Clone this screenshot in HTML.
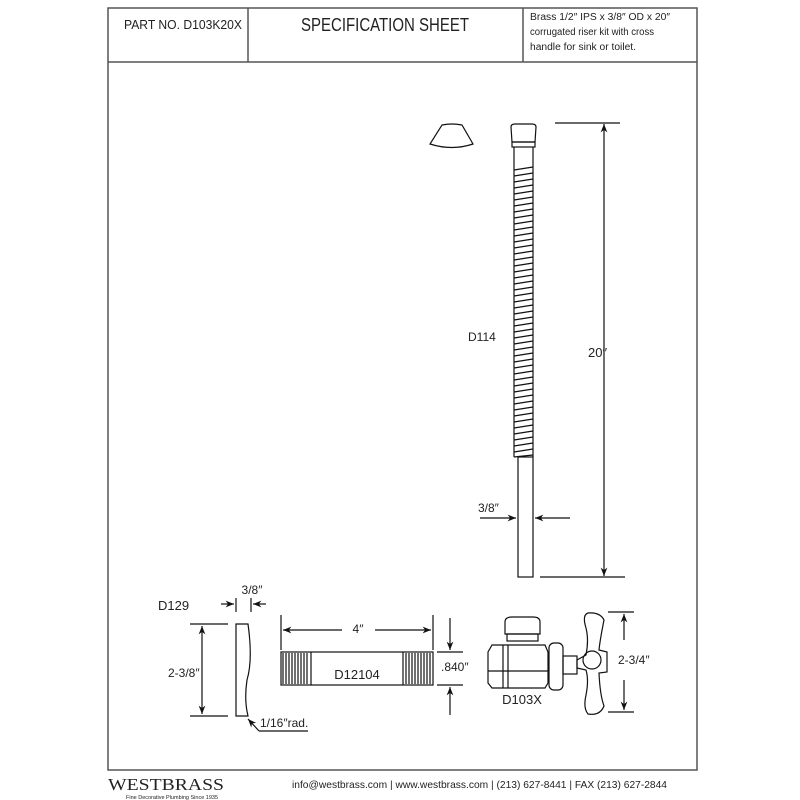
<!DOCTYPE html>
<html><head><meta charset="utf-8"><style>
html,body{margin:0;padding:0;background:#fff;}
svg{display:block;font-family:"Liberation Sans",sans-serif;}
</style></head><body>
<svg width="800" height="800" viewBox="0 0 800 800" xmlns="http://www.w3.org/2000/svg">
<defs>
<marker id="ar" viewBox="0 0 10 10" refX="10" refY="5" markerWidth="7" markerHeight="7" orient="auto-start-reverse"><path d="M0,1 L10,5 L0,9 L3,5 Z" fill="#111"/></marker>
</defs>
<g fill="none" stroke="#555" stroke-width="1.5">
<rect x="108" y="8" width="589" height="762"/>
<line x1="108" y1="62" x2="697" y2="62"/>
<line x1="248" y1="8" x2="248" y2="62"/>
<line x1="523" y1="8" x2="523" y2="62"/>
</g>
<g fill="#222">
<text x="124" y="29" font-size="13" textLength="118" lengthAdjust="spacingAndGlyphs">PART NO.  D103K20X</text>
<text x="385" y="31" font-size="18" text-anchor="middle" textLength="168" lengthAdjust="spacingAndGlyphs">SPECIFICATION SHEET</text>
<text x="530" y="20" font-size="10" textLength="140" lengthAdjust="spacingAndGlyphs">Brass 1/2″ IPS x 3/8″ OD x 20″</text>
<text x="530" y="35" font-size="10" textLength="124" lengthAdjust="spacingAndGlyphs">corrugated riser kit with cross</text>
<text x="530" y="50" font-size="10" textLength="106" lengthAdjust="spacingAndGlyphs">handle for sink or toilet.</text>
</g>
<g stroke="#111" stroke-width="1.2" fill="none">
<path d="M442,125 Q452,123 462,125 L473,144 Q452,151 430,144 Z"/>
<path d="M511,127 Q511,124 515,124 L532,124 Q536,124 536,127 L535,142 L512,142 Z"/>
<rect x="512" y="142" width="23" height="5"/>
<line x1="514" y1="147" x2="514" y2="167"/><line x1="533" y1="147" x2="533" y2="167"/>
<line x1="514" y1="167" x2="514" y2="457"/><line x1="533" y1="167" x2="533" y2="457"/>
<path d="M514,170 L533,167 M514,176 L533,173 M514,182 L533,179 M514,188 L533,185 M514,194 L533,191 M514,200 L533,197 M514,206 L533,203 M514,212 L533,209 M514,218 L533,215 M514,224 L533,221 M514,230 L533,227 M514,236 L533,233 M514,242 L533,239 M514,248 L533,245 M514,254 L533,251 M514,260 L533,257 M514,266 L533,263 M514,272 L533,269 M514,278 L533,275 M514,284 L533,281 M514,290 L533,287 M514,296 L533,293 M514,302 L533,299 M514,308 L533,305 M514,314 L533,311 M514,320 L533,317 M514,326 L533,323 M514,332 L533,329 M514,338 L533,335 M514,344 L533,341 M514,350 L533,347 M514,356 L533,353 M514,362 L533,359 M514,368 L533,365 M514,374 L533,371 M514,380 L533,377 M514,386 L533,383 M514,392 L533,389 M514,398 L533,395 M514,404 L533,401 M514,410 L533,407 M514,416 L533,413 M514,422 L533,419 M514,428 L533,425 M514,434 L533,431 M514,440 L533,437 M514,446 L533,443 M514,452 L533,449 M514,457 L533,455"/>
<rect x="518" y="457" width="15" height="120"/>
<line x1="555" y1="123" x2="620" y2="123"/>
<line x1="540" y1="577" x2="625" y2="577"/>
<line x1="604" y1="124" x2="604" y2="576" marker-start="url(#ar)" marker-end="url(#ar)"/>
<line x1="480" y1="518" x2="516" y2="518" marker-end="url(#ar)"/>
<line x1="570" y1="518" x2="535" y2="518" marker-end="url(#ar)"/>
<path d="M236,624 L248,624 Q253,660 247,680 Q244,700 248,716 L236,716 Z"/>
<line x1="190" y1="624" x2="228" y2="624"/><line x1="190" y1="716" x2="228" y2="716"/>
<line x1="202" y1="626" x2="202" y2="714" marker-start="url(#ar)" marker-end="url(#ar)"/>
<line x1="236" y1="598" x2="236" y2="612"/><line x1="251" y1="598" x2="251" y2="612"/>
<line x1="221" y1="604" x2="234" y2="604" marker-end="url(#ar)"/>
<line x1="266" y1="604" x2="253" y2="604" marker-end="url(#ar)"/>
<path d="M259,731 L308,731 M259,731 L248,719" marker-end="url(#ar)"/>
<rect x="281" y="652" width="152" height="33"/>
<line x1="311" y1="652" x2="311" y2="685"/><line x1="403" y1="652" x2="403" y2="685"/>
<path d="M283,653 v31 M286,653 v31 M289,653 v31 M292,653 v31 M295,653 v31 M298,653 v31 M301,653 v31 M304,653 v31 M307,653 v31 M406,653 v31 M409,653 v31 M412,653 v31 M415,653 v31 M418,653 v31 M421,653 v31 M424,653 v31 M427,653 v31 M430,653 v31"/>
<line x1="281" y1="615" x2="281" y2="650"/><line x1="433" y1="615" x2="433" y2="650"/>
<line x1="342" y1="630" x2="283" y2="630" marker-end="url(#ar)"/>
<line x1="375" y1="630" x2="431" y2="630" marker-end="url(#ar)"/>
<line x1="437" y1="652" x2="463" y2="652"/><line x1="437" y1="685" x2="463" y2="685"/>
<line x1="450" y1="618" x2="450" y2="650" marker-end="url(#ar)"/>
<line x1="450" y1="715" x2="450" y2="687" marker-end="url(#ar)"/>
<path d="M505,622 Q505,617 512,617 L533,617 Q540,617 540,622 L540,634 L505,634 Z"/>
<rect x="507" y="634" width="31" height="7"/>
<path d="M492,645 L545,645 L548,652 L548,683 L545,688 L492,688 L488,683 L488,652 Z"/>
<line x1="503" y1="645" x2="503" y2="688"/><line x1="508" y1="645" x2="508" y2="688"/>
<line x1="488" y1="671" x2="548" y2="671"/>
<rect x="549" y="643" width="14" height="47" rx="5"/>
<rect x="563" y="656" width="14" height="18"/>
<path d="M588,613 Q600,612 604,620 Q600,640 599,650 L607,652 L607,672 L599,673 Q600,695 604,706 Q600,716 588,714 Q583,708 586,695 Q589,680 586,670 L577,668 L577,660 L586,655 Q589,640 586,628 Q582,615 588,613 Z"/>
<circle cx="592" cy="660" r="9"/>
<line x1="608" y1="612" x2="634" y2="612"/><line x1="608" y1="712" x2="634" y2="712"/>
<line x1="624" y1="640" x2="624" y2="614" marker-end="url(#ar)"/>
<line x1="624" y1="680" x2="624" y2="710" marker-end="url(#ar)"/>
</g>
<g fill="#222" font-size="12">
<text x="468" y="341">D114</text>
<text x="588" y="357" font-size="13">20″</text>
<text x="478" y="512">3/8″</text>
<text x="252" y="594" text-anchor="middle">3/8″</text>
<text x="158" y="610" font-size="13">D129</text>
<text x="168" y="677">2-3/8″</text>
<text x="260" y="727">1/16″rad.</text>
<text x="358" y="633" text-anchor="middle">4″</text>
<text x="357" y="679" text-anchor="middle" font-size="13">D12104</text>
<text x="441" y="671">.840″</text>
<text x="522" y="704" text-anchor="middle" font-size="13">D103X</text>
<text x="618" y="664">2-3/4″</text>
</g>
<g fill="#222">
<text x="108" y="790" font-family="Liberation Serif,serif" font-size="17" textLength="116" lengthAdjust="spacingAndGlyphs">WESTBRASS</text>
<text x="126" y="799" font-size="5.5">Fine Decorative Plumbing Since 1935</text>
<text x="292" y="788" font-size="10.5" textLength="375" lengthAdjust="spacingAndGlyphs">info@westbrass.com |  www.westbrass.com    |    (213) 627-8441    |    FAX (213) 627-2844</text>
</g>
</svg>
</body></html>
